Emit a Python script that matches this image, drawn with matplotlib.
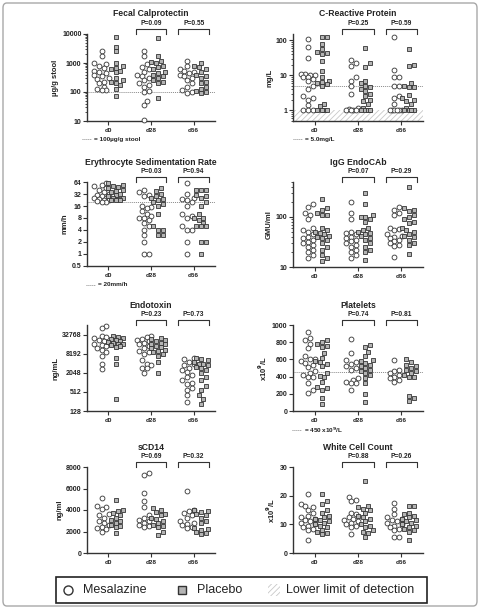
import matplotlib
matplotlib.use('Agg')
import matplotlib.pyplot as plt
import numpy as np
from matplotlib.patches import Rectangle, FancyBboxPatch
from matplotlib.lines import Line2D
from matplotlib.ticker import FixedLocator, FixedFormatter, LogLocator, NullFormatter, NullLocator

plt.rcParams['font.family'] = ['Liberation Sans', 'DejaVu Sans']
plt.rcParams['hatch.linewidth'] = 0.6

W, H = 480, 609
days = ['d0', 'd28', 'd56']

# ---- data: each list holds [d0, d28, d56] groups ----
fc_mes = [[2500, 1700, 1000, 950, 800, 650, 550, 500, 450, 400, 350, 300, 280, 230, 200, 150, 130, 120, 115],
          [2500, 1700, 900, 700, 600, 500, 400, 350, 300, 250, 200, 180, 150, 110, 100, 50, 35, 11],
          [1200, 800, 600, 550, 500, 450, 400, 350, 300, 250, 200, 150, 120, 100, 90]]
fc_pla = [[8000, 3700, 2500, 1000, 800, 650, 600, 550, 500, 300, 250, 230, 200, 180, 130, 70],
          [7000, 1800, 1200, 1100, 1000, 800, 700, 600, 500, 450, 400, 350, 300, 250, 220, 200, 60],
          [1000, 800, 700, 600, 500, 400, 350, 300, 220, 200, 150, 130, 110, 100, 90]]
fc_p = ['P=0.09', 'P=0.55']

crp_mes = [[110, 65, 32, 11, 11, 10, 10, 9, 9, 8, 7, 5, 4, 2.5, 2.2, 2, 1.4, 1, 1, 1],
           [27, 23, 18, 9, 7, 5, 3, 1.2, 1.1, 1, 1, 1, 1],
           [120, 14, 9, 9, 5, 5, 2.5, 2.3, 1.5, 1, 1, 1, 1, 1, 1]]
crp_pla = [[120, 120, 80, 55, 45, 42, 40, 25, 13, 9, 7, 6.5, 6, 5.5, 5, 1.5, 1.3, 1, 1, 1, 1],
           [60, 22, 17, 7, 6, 5, 4.5, 4, 3.5, 3, 2.5, 2, 1.8, 1.5, 1.2, 1, 1, 1, 1],
           [55, 20, 18, 6, 5, 4.5, 4.5, 2.7, 2.2, 2, 1.8, 1.5, 1.2, 1, 1, 1, 1]]
crp_p = ['P=0.25', 'P=0.59']

esr_mes = [[60, 55, 50, 45, 40, 35, 32, 30, 28, 26, 25, 24, 22, 22, 20, 20, 21],
           [40, 35, 30, 28, 16, 15, 14, 12, 10, 9, 8, 8, 7, 6, 5, 4, 3, 2, 1, 1],
           [60, 32, 25, 24, 22, 20, 16, 10, 9, 8, 5, 4, 4, 2, 1]]
esr_pla = [[60, 55, 50, 48, 45, 40, 38, 35, 32, 30, 28, 26, 25, 24, 22, 22, 22],
           [45, 38, 32, 28, 25, 24, 22, 20, 18, 16, 10, 5, 4, 4, 3, 3],
           [40, 40, 40, 30, 28, 25, 20, 16, 10, 8, 8, 7, 6, 5, 5, 5, 2, 2, 1]]
esr_p = ['P=0.03', 'P=0.94']

igg_mes = [[180, 160, 120, 110, 90, 60, 55, 50, 45, 40, 38, 35, 32, 30, 28, 25, 22, 20, 17, 15],
           [200, 120, 90, 50, 48, 45, 40, 38, 35, 33, 30, 28, 25, 22, 20, 17, 15],
           [160, 140, 120, 110, 60, 58, 55, 45, 42, 40, 38, 35, 33, 30, 28, 26, 16]]
igg_pla = [[230, 150, 140, 120, 110, 110, 60, 55, 50, 48, 45, 42, 40, 38, 35, 30, 25, 22, 17, 15, 13],
           [300, 180, 110, 100, 100, 90, 80, 60, 55, 50, 48, 45, 42, 38, 35, 30, 25, 22, 20, 14],
           [400, 150, 140, 130, 110, 100, 90, 80, 75, 60, 55, 50, 45, 42, 40, 35, 30, 28, 18]]
igg_p = ['P=0.07', 'P=0.29']

endo_mes = [[60000, 52000, 30000, 28000, 25000, 22000, 20000, 18000, 16000, 15000, 14000, 12000, 11000, 9000, 7000, 4000, 2600],
            [30000, 28000, 24000, 22000, 20000, 18000, 16000, 14000, 12000, 10000, 9000, 8000, 5000, 4000, 3500, 3000, 2800, 2000],
            [6000, 5500, 4500, 4000, 3500, 3000, 2500, 2200, 1800, 1500, 1200, 1000, 900, 700, 600, 400, 250]]
endo_pla = [[30000, 28000, 26000, 24000, 22000, 20000, 19000, 18000, 17000, 16000, 15000, 14000, 13000, 6000, 4000, 300],
            [26000, 24000, 22000, 20000, 18000, 17000, 16000, 14000, 13000, 12000, 11000, 10000, 9000, 8000, 7000, 4500, 2000],
            [6000, 5500, 5000, 4500, 4000, 3800, 3500, 3200, 3000, 2500, 2000, 1500, 1200, 800, 600, 400, 300, 220]]
endo_p = ['P=0.23', 'P=0.73']

plt_mes = [[920, 850, 820, 780, 730, 640, 610, 600, 580, 560, 540, 510, 460, 440, 420, 400, 400, 320, 250, 210],
           [840, 670, 590, 570, 550, 520, 500, 480, 380, 360, 340, 330, 320, 250],
           [590, 480, 460, 440, 420, 400, 380, 360, 340]]
plt_pla = [[820, 800, 780, 760, 750, 670, 620, 580, 570, 550, 520, 440, 410, 390, 340, 280, 270, 250, 150, 80],
           [770, 740, 690, 640, 590, 580, 560, 540, 520, 500, 480, 460, 440, 420, 380, 320, 200, 110],
           [610, 570, 540, 520, 500, 480, 460, 440, 420, 400, 400, 180, 150, 120]]
plt_p = ['P=0.74', 'P=0.81']

cd14_mes = [[5100, 4400, 4300, 4100, 3600, 3500, 3300, 3000, 2800, 2600, 2400, 2300, 2200, 2000],
            [7400, 7300, 5600, 4800, 4300, 3500, 3300, 3100, 3000, 2800, 2600, 2500, 2400],
            [5800, 4000, 3900, 3700, 3500, 3300, 3000, 2800, 2700, 2600, 2400, 2300]]
cd14_pla = [[4900, 4000, 3900, 3700, 3500, 3300, 3100, 3000, 2800, 2600, 2500, 2400, 1900],
            [4200, 4000, 3800, 3600, 3500, 3300, 3200, 3000, 2800, 2600, 2500, 2400, 2000, 1700],
            [4000, 3900, 3800, 3600, 3500, 3300, 3000, 2800, 2300, 2200, 2100, 2000, 1900, 1800]]
cd14_p = ['P=0.69', 'P=0.32']

wcc_mes = [[20.5, 17, 16.5, 16, 15, 14, 13, 12.5, 12, 11.5, 11, 10.5, 10, 9.5, 9, 8.5, 8, 4.5],
           [19.5, 18.5, 18, 14, 13.5, 12.5, 12, 11.5, 11, 10.5, 10, 9.5, 9, 6.5],
           [17.5, 15.5, 13.5, 12.5, 12, 11.5, 11, 10.5, 10, 9.5, 9, 8.5, 8, 5.5, 5.5]]
wcc_pla = [[20.5, 18, 17, 15, 14, 13, 12.5, 12, 11.5, 11, 10.5, 10, 9.5, 9, 8, 7.5, 7, 6.5],
           [25, 16.5, 16, 15.5, 15, 14, 13, 12.5, 12, 11, 10, 9.5, 9, 8, 7.5, 7, 5.5],
           [16.5, 16.5, 14, 13.5, 13, 12.5, 12, 11.5, 11, 10.5, 10, 9.5, 9, 8.5, 8, 7.5, 4.5]]
wcc_p = ['P=0.88', 'P=0.26']

EDGE = '#333333'
GRAY = '#b4b4b4'
TXT = '#222222'


def fx(x):
    return x / W


def fy(y):
    return 1 - y / H


fig = plt.figure(figsize=(W / 100, H / 100), dpi=100)
fig.patch.set_facecolor('white')
fig.add_artist(FancyBboxPatch((fx(3), fy(606)), fx(474), 603 / H,
                              boxstyle='round,pad=0,rounding_size=0.008',
                              transform=fig.transFigure, fc='none', ec='#a8a8a8', lw=1.0))


def swarm(ax, center, vals, diam=4.8, maxoff=8.0):
    # compact beeswarm in pixel space; overlap allowed once the group gets too wide
    pts = ax.transData.transform(np.column_stack([np.full(len(vals), center), vals]))
    cx = pts[0, 0]
    ys = pts[:, 1]
    xs = np.zeros(len(vals))
    placed = []
    cands = [0.0]
    step = diam * 0.5
    k = 1
    while k * step <= maxoff:
        cands += [k * step, -k * step]
        k += 1
    for i in np.argsort(ys):
        best, bestd = 0.0, -1
        for off in cands:
            d = min([np.hypot(off - px, ys[i] - py) for px, py in placed] or [99])
            if d >= diam:
                best = off
                break
            if d > bestd:
                best, bestd = off, d
        placed.append((best, ys[i]))
        xs[i] = cx + best
    back = ax.transData.inverted().transform(np.column_stack([xs, ys]))
    return back[:, 0]


def panel(x0, x1, y0, y1, title, mes, pla, pvals, ylim, ylabel, scale='linear',
          yticks=None, yticklabels=None, minor=False, ref=None, hatch=False):
    h = y1 - y0
    ax = fig.add_axes([fx(x0), fy(y1), (x1 - x0) / W, h / H])
    ax.set_xlim(0.5, 3.5)
    if scale == 'log10':
        ax.set_yscale('log')
    elif scale == 'log2':
        ax.set_yscale('log', base=2)
    ax.set_ylim(*ylim)
    for s in ['top', 'right']:
        ax.spines[s].set_visible(False)
    for s in ['left', 'bottom']:
        ax.spines[s].set_linewidth(1.0)
        ax.spines[s].set_color(EDGE)
    ax.yaxis.set_major_locator(FixedLocator(yticks))
    ax.yaxis.set_major_formatter(FixedFormatter(yticklabels))
    if minor:
        ax.yaxis.set_minor_locator(LogLocator(base=10, subs=np.arange(2, 10)))
        ax.yaxis.set_minor_formatter(NullFormatter())
    else:
        ax.yaxis.set_minor_locator(NullLocator())
    ax.set_xticks([1, 2, 3])
    ax.set_xticklabels(days)
    ax.tick_params(axis='y', which='major', length=3, width=0.8, color=EDGE, labelsize=5, pad=1)
    ax.tick_params(axis='y', which='minor', length=1.6, width=0.6, color=EDGE)
    ax.tick_params(axis='x', length=3, width=0.8, color=EDGE, labelsize=4.6, pad=2)
    for lab in ax.get_yticklabels() + ax.get_xticklabels():
        lab.set_fontweight('bold')
        lab.set_color(TXT)
    ax.set_ylabel(ylabel, fontsize=5.5, fontweight='bold', labelpad=2, color=TXT)
    ax.text(0.5, 1 + 20 / h, title, transform=ax.transAxes, ha='center', va='center',
            fontsize=6.2, fontweight='bold', color=TXT)

    if hatch:
        ax.add_patch(Rectangle((0.5, ylim[0]), 3.0, 1 - ylim[0], fc='none', ec='#c8c8c8',
                               lw=0, hatch='//////', zorder=0))
    if ref is not None:
        ax.axhline(ref, color='#8a8a8a', lw=0.7, ls=(0, (1, 1)), zorder=1)

    for d in range(3):
        xm = swarm(ax, d + 1 - 0.16, mes[d])
        ax.plot(xm, mes[d], 'o', ms=3.5, mfc='white', mec=EDGE, mew=0.6, ls='none',
                clip_on=False, zorder=3)
        xp = swarm(ax, d + 1 + 0.17, pla[d])
        ax.plot(xp, pla[d], 's', ms=3.2, mfc=GRAY, mec=EDGE, mew=0.6, ls='none',
                clip_on=False, zorder=3)

    bh = 5 / h
    for j, p in enumerate(pvals):
        c = j + 2
        ax.plot([c - 0.36, c - 0.36, c + 0.36, c + 0.36], [1.0, 1 + bh, 1 + bh, 1.0],
                transform=ax.get_xaxis_transform(), color=EDGE, lw=0.8, clip_on=False)
        ax.text(c, 1 + bh + 2 / h, p, transform=ax.get_xaxis_transform(), ha='center',
                va='bottom', fontsize=4.8, fontweight='bold', color=TXT)
    return ax


def note(x, y, text):
    fig.add_artist(Line2D([fx(x), fx(x + 9)], [fy(y), fy(y)], transform=fig.transFigure,
                          color='#8a8a8a', lw=0.7, ls=(0, (1, 1))))
    fig.text(fx(x + 12), fy(y), text, fontsize=4.6, fontweight='bold', va='center', color=TXT)


LX0, LX1 = 87, 215
RX0, RX1 = 293, 423

panel(LX0, LX1, 34, 121, 'Fecal Calprotectin', fc_mes, fc_pla, fc_p, (10, 10000),
      '\u00b5g/g stool', scale='log10', yticks=[10, 100, 1000, 10000],
      yticklabels=['10', '100', '1000', '10000'], minor=True, ref=100)
panel(RX0, RX1, 34, 121, 'C-Reactive Protein', crp_mes, crp_pla, crp_p, (0.5, 150),
      'mg/L', scale='log10', yticks=[1, 10, 100], yticklabels=['1', '10', '100'],
      minor=True, ref=5, hatch=True)
panel(LX0, LX1, 182, 266, 'Erythrocyte Sedimentation Rate', esr_mes, esr_pla, esr_p, (0.5, 64),
      'mm/h', scale='log2', yticks=[0.5, 1, 2, 4, 8, 16, 32, 64],
      yticklabels=['0.5', '1', '2', '4', '8', '16', '32', '64'], ref=20)
panel(RX0, RX1, 182, 267, 'IgG EndoCAb', igg_mes, igg_pla, igg_p, (10, 500),
      'GMU/ml', scale='log10', yticks=[10, 100], yticklabels=['10', '100'], minor=True)
panel(LX0, LX1, 325, 411, 'Endotoxin', endo_mes, endo_pla, endo_p, (128, 65536),
      'ng/mL', scale='log2', yticks=[128, 512, 2048, 8192, 32768],
      yticklabels=['128', '512', '2048', '8192', '32768'])
panel(RX0, RX1, 325, 411, 'Platelets', plt_mes, plt_pla, plt_p, (0, 1000),
      r'x10$^{\mathbf{9}}$/L', yticks=[0, 200, 400, 600, 800, 1000],
      yticklabels=['0', '200', '400', '600', '800', '1000'], ref=450)
panel(LX0, LX1, 467, 553, 'sCD14', cd14_mes, cd14_pla, cd14_p, (0, 8000),
      'ng/ml', yticks=[0, 2000, 4000, 6000, 8000],
      yticklabels=['0', '2000', '4000', '6000', '8000'])
panel(RX0, RX1, 467, 553, 'White Cell Count', wcc_mes, wcc_pla, wcc_p, (0, 30),
      r'x10$^{\mathbf{9}}$/L', yticks=[0, 10, 20, 30], yticklabels=['0', '10', '20', '30'])

note(82, 139, '= 100\u00b5g/g stool')
note(293, 139, '= 5.0mg/L')
note(86, 285, '= 20mm/h')
note(292, 430, r'= 450 x10$^{\mathbf{9}}$/L')

# legend box
fig.add_artist(Rectangle((fx(56), fy(603)), (427 - 56) / W, 26 / H, transform=fig.transFigure,
                         fc='white', ec=TXT, lw=1.2))
ly = fy(590)
fig.add_artist(Line2D([fx(68)], [ly], marker='o', ms=6.5, mfc='white', mec=EDGE, mew=1.0,
                      transform=fig.transFigure))
fig.text(fx(83), ly, 'Mesalazine', fontsize=9, va='center', color=TXT)
fig.add_artist(Line2D([fx(182)], [ly], marker='s', ms=6, mfc=GRAY, mec=EDGE, mew=1.0,
                      transform=fig.transFigure))
fig.text(fx(197), ly, 'Placebo', fontsize=9, va='center', color=TXT)
fig.add_artist(Rectangle((fx(268), fy(596)), 12 / W, 12 / H, transform=fig.transFigure,
                         fc='none', ec='#c8c8c8', lw=0, hatch='//////'))
fig.text(fx(286), ly, 'Lower limit of detection', fontsize=9, va='center', color=TXT)

fig.savefig('out.png', dpi=100, facecolor='white')
